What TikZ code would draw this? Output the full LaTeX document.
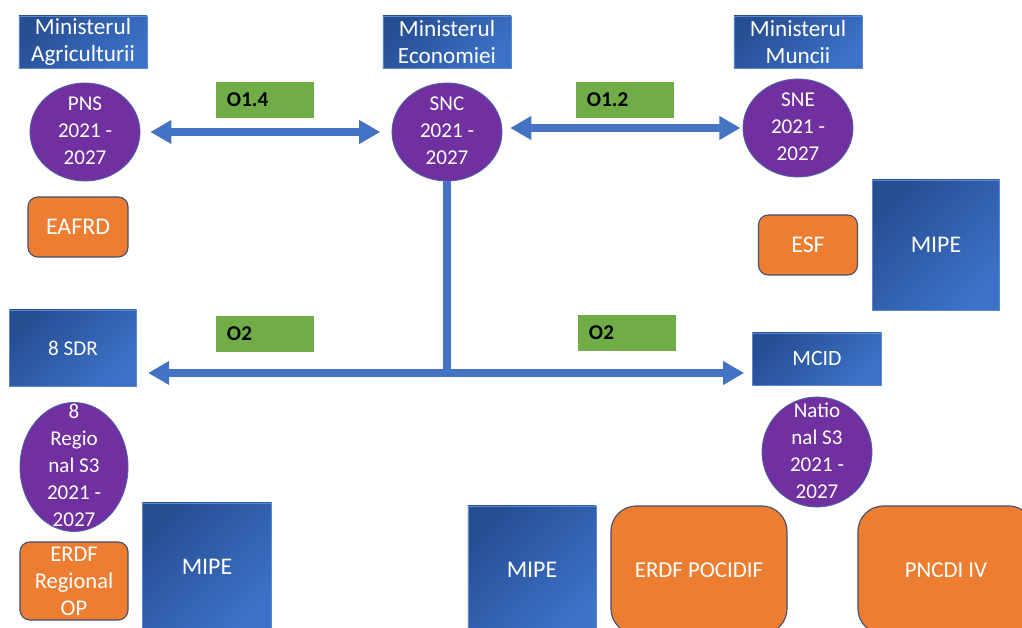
\documentclass[tikz,border=0pt]{standalone}
\usepackage{fontspec}
\setmainfont{Carlito}
\usetikzlibrary{arrows.meta,positioning,shapes.geometric}
\definecolor{boxdark}{HTML}{274E93}
\definecolor{boxlight}{HTML}{3C72C8}
\definecolor{planpurple}{HTML}{7030A0}
\definecolor{planedge}{HTML}{4E62A8}
\definecolor{fundorange}{HTML}{ED7D31}
\definecolor{fundedge}{HTML}{42506E}
\definecolor{objgreen}{HTML}{70AD47}
\definecolor{arrblue}{HTML}{4472C4}
\newcommand{\lbl}{\fontsize{15}{19.2}\selectfont}
\newcommand{\minlbl}{\fontsize{16.5}{19.2}\selectfont}
\newcommand{\fundlbl}{\fontsize{17}{19.2}\selectfont}
\newcommand{\biglbl}{\fontsize{16.2}{20}\selectfont}
\newcommand{\inplan}[1]{\smash{\raisebox{-3.75pt}{\begin{tabular}{@{}c@{}}#1\end{tabular}}}}

\begin{document}
\begin{tikzpicture}[x=0.025cm, y=-0.025cm, >={Triangle[width=16pt,length=15pt]},
  minbox/.style={top color=boxdark, bottom color=boxlight, shading angle=45,
    draw=boxlight!85!white, line width=0.4pt, minimum width=3.2cm,
    minimum height=1.3cm, inner sep=0pt, align=center, text=white, font=\lbl},
  unit/.style={minbox, font=\fontsize{17}{20}\selectfont},
  plan/.style={ellipse, fill=planpurple, draw=planedge, line width=0.6pt,
    inner sep=0pt, text=white, font=\lbl},
  fund/.style={rounded corners=7pt, fill=fundorange, draw=fundedge,
    line width=0.8pt, inner sep=0pt, align=center, text=white, font=\fundlbl},
  obj/.style={fill=objgreen, minimum height=0.9cm, inner xsep=0.275cm,
    inner ysep=0pt, text width=1.9cm, align=left, font=\lbl\bfseries},
  arr/.style={draw=arrblue, line width=5pt}]
\clip (0,0) rectangle (1022,628);
% ministries
\node[minbox, font=\minlbl] (agri) at (83,42) {Ministerul\\Agriculturii};
\node[minbox, font=\minlbl] (econ) at (447,42) {Ministerul\\Economiei};
\node[minbox, font=\minlbl] (munca) at (798,42) {Ministerul\\Muncii};
% strategies
\node[plan, minimum width=2.75cm, minimum height=2.45cm] (pns) at (85,132)
  {\inplan{PNS\\2021 -\\2027}};
\node[plan, minimum width=2.75cm, minimum height=2.45cm] (snc) at (447,132)
  {\inplan{SNC\\2021 -\\2027}};
\node[plan, minimum width=2.75cm, minimum height=2.45cm] (sne) at (798,128)
  {\inplan{SNE\\2021 -\\2027}};
\node[obj] (o14) at (265,100) {O1.4};
\node[obj] (o12) at (625,100) {O1.2};
\node[obj] (o2l) at (265,334) {O2};
\node[obj] (o2r) at (627,333) {O2};
% funds and managers
\node[fund, minimum width=2.5cm, minimum height=1.5cm] (eafrd) at (78,227) {EAFRD};
\node[fund, minimum width=2.475cm, minimum height=1.5cm] (esf) at (808,245) {ESF};
\node[unit, minimum width=3.175cm, minimum height=3.25cm] (mipe1) at (936,245) {MIPE};
\node[minbox, minimum width=3.175cm, minimum height=1.9cm] (sdr) at (73,348) {8 SDR};
\node[minbox, minimum width=3.225cm, font=\fontsize{15.5}{19}\selectfont] (mcid)
  at (817,359) {MCID};
\node[plan, minimum width=2.7cm, minimum height=3.225cm] (regs3) at (74,467)
  {\inplan{8\\Regio\\nal S3\\2021 -\\2027}};
\node[plan, minimum width=2.75cm, minimum height=2.75cm] (nats3) at (817,452)
  {\inplan{Natio\\nal S3\\2021 -\\2027}};
\node[fund, minimum width=2.7cm, minimum height=1.95cm,
  font=\fontsize{16}{19.2}\selectfont] (erdfreg) at (74,581) {ERDF\\Regional\\OP};
\node[unit, minimum width=3.225cm, minimum height=3.2cm] (mipe2) at (207,567) {MIPE};
\node[unit, minimum width=3.2cm, minimum height=3.2cm] (mipe3) at (532,570) {MIPE};
\node[fund, rounded corners=18pt, font=\biglbl, minimum width=4.4cm,
  minimum height=3.2cm] (pocidif) at (699,570) {ERDF POCIDIF};
\node[fund, rounded corners=18pt, font=\biglbl, minimum width=4.4cm,
  minimum height=3.2cm] (pncdi) at (946,570) {PNCDI IV};
% links
\coordinate (hub) at (447,373);
\draw[arr, <->, shorten <=7pt, shorten >=8pt] (pns) -- (snc);
\draw[arr, <->, shorten <=5.5pt, shorten >=1.5pt] (snc.east |- sne) -- (sne.west);
\draw[arr] (snc.south) -- (hub);
\draw[arr, ->, shorten >=8pt] (hub) -- (hub -| sdr.east);
\draw[arr, ->, shorten >=5.7pt] (hub) -- (hub -| mcid.west);
\end{tikzpicture}
\end{document}
